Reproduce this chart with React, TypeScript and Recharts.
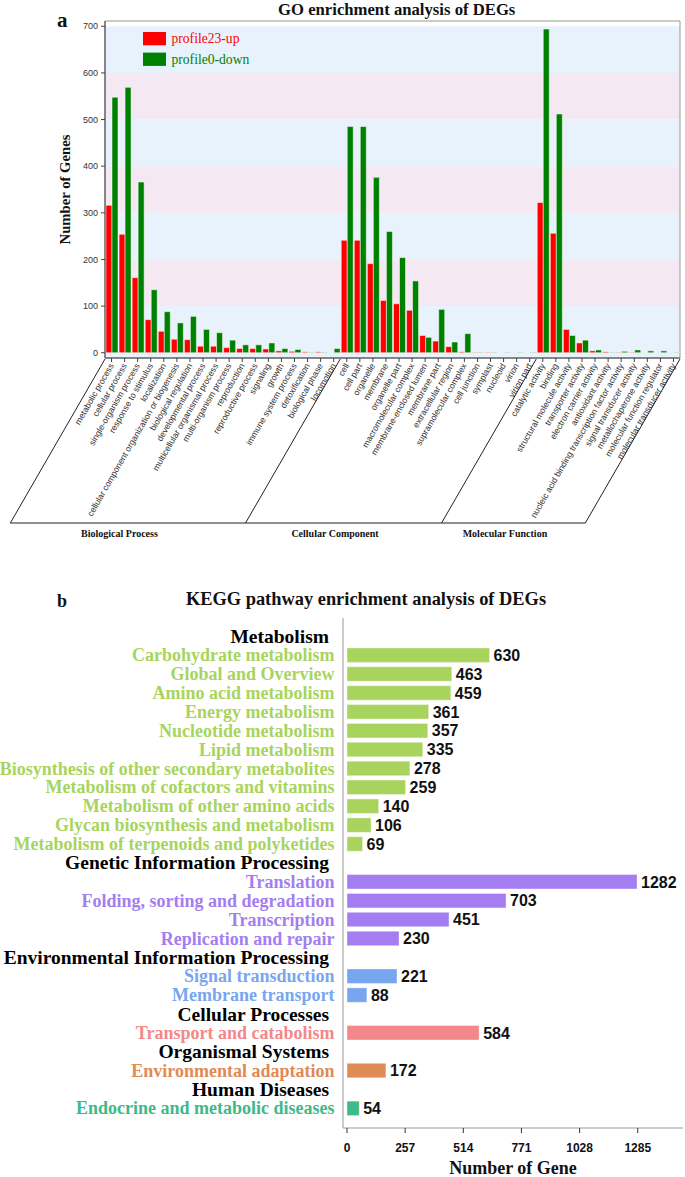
import React from 'react';
import { BarChart, Bar, XAxis, YAxis, ReferenceArea, Legend, Cell, LabelList } from 'recharts';

// ---------------- GO data ----------------
const bpTerms = ['metabolic process', 'cellular process', 'single-organism process', 'response to stimulus', 'localization', 'cellular component organization or biogenesis', 'biological regulation', 'developmental process', 'multicellular organismal process', 'multi-organism process', 'reproduction', 'reproductive process', 'signaling', 'growth', 'immune system process', 'detoxification', 'biological phase', 'locomotion'];
const bpUp = [316, 254, 161, 71, 46, 29, 28, 14, 14, 11, 9, 9, 8, 4, 3, 2, 2, 0];
const bpDown = [548, 569, 366, 135, 88, 64, 78, 50, 43, 27, 17, 17, 21, 9, 7, 1, 1, 9];

const ccTerms = ['cell', 'cell part', 'organelle', 'membrane', 'organelle part', 'macromolecular complex', 'membrane-enclosed lumen', 'membrane part', 'extracellular region', 'supramolecular complex', 'cell junction', 'symplast', 'nucleoid', 'virion', 'virion part'];
const ccUp = [241, 241, 191, 112, 105, 91, 37, 25, 13, 2, 1, 1, 0, 0, 0];
const ccDown = [485, 485, 376, 260, 204, 154, 33, 93, 23, 41, 1, 1, 1, 1, 1];

const mfTerms = ['catalytic activity', 'binding', 'structural molecule activity', 'transporter activity', 'electron carrier activity', 'antioxidant activity', 'nucleic acid binding transcription factor activity', 'signal transducer activity', 'metallochaperone activity', 'molecular function regulator', 'molecular transducer activity'];
const mfUp = [322, 256, 50, 21, 4, 2, 1, 1, 0, 0, 0];
const mfDown = [694, 512, 37, 27, 6, 1, 3, 6, 4, 4, 1];

const goGroupNames = ['Biological Process', 'Cellular Component', 'Molecular Function'];
const goSeriesNames = ['profile23-up', 'profile0-down'];
const goYTicks = [0, 100, 200, 300, 400, 500, 600, 700];
const goYDomain = [-11.3, 711.3];

// ---------------- KEGG data ----------------
const keggClasses = ['Metabolism', 'Genetic Information Processing', 'Environmental Information Processing', 'Cellular Processes', 'Organismal Systems', 'Human Diseases'];
const metabolismPathways = ['Carbohydrate metabolism', 'Global and Overview', 'Amino acid metabolism', 'Energy metabolism', 'Nucleotide metabolism', 'Lipid metabolism', 'Biosynthesis of other secondary metabolites', 'Metabolism of cofactors and vitamins', 'Metabolism of other amino acids', 'Glycan biosynthesis and metabolism', 'Metabolism of terpenoids and polyketides'];
const metabolismCounts = [630, 463, 459, 361, 357, 335, 278, 259, 140, 106, 69];
const geneticPathways = ['Translation', 'Folding, sorting and degradation', 'Transcription', 'Replication and repair'];
const geneticCounts = [1282, 703, 451, 230];
const environmentalPathways = ['Signal transduction', 'Membrane transport'];
const environmentalCounts = [221, 88];
const cellularPathways = ['Transport and catabolism'];
const cellularCounts = [584];
const organismalPathways = ['Environmental adaptation'];
const organismalCounts = [172];
const diseasePathways = ['Endocrine and metabolic diseases'];
const diseaseCounts = [54];
const keggXTicks = [0, 257, 514, 771, 1028, 1285];
const keggXDomain = [-17.7, 1485];

// ---------------- styles ----------------
const SERIF = '"Liberation Serif", "Times New Roman", serif';
const SANS = '"Liberation Sans", Arial, sans-serif';
const goColors = ['#ff0000', '#008000'];
const stripeColors = ['#e8f2fc', '#f4e8f2'];
const keggColors = ['#a8d45e', '#a47ef0', '#78a6ee', '#f4878a', '#e08a55', '#3dba88'];

// ---------------- build tables ----------------
const goGroups = [
  { terms: bpTerms, up: bpUp, down: bpDown },
  { terms: ccTerms, up: ccUp, down: ccDown },
  { terms: mfTerms, up: mfUp, down: mfDown },
];
const goRows = goGroups.flatMap((g, gi) => g.terms.map((t, i) => ({ term: t, up: g.up[i], down: g.down[i], group: gi })));

const keggGroups = [
  { p: metabolismPathways, c: metabolismCounts },
  { p: geneticPathways, c: geneticCounts },
  { p: environmentalPathways, c: environmentalCounts },
  { p: cellularPathways, c: cellularCounts },
  { p: organismalPathways, c: organismalCounts },
  { p: diseasePathways, c: diseaseCounts },
];
const keggRows: any[] = [];
keggClasses.forEach((cls, ci) => {
  keggRows.push({ name: cls, value: null, header: true, cls: ci });
  keggGroups[ci].p.forEach((p, i) => keggRows.push({ name: p, value: keggGroups[ci].c[i], header: false, cls: ci }));
});

// ---------------- layout ----------------
const W = 685;
const GO_H = 560;
const GO_TOP = 21;
const GO_YAXIS_W = 105;
const GO_RIGHT = 5;
const GO_XAXIS_H = 202;
const GO_PLOT_LEFT = GO_YAXIS_W;
const GO_PLOT_RIGHT = W - GO_RIGHT;
const GO_PLOT_BOTTOM = GO_H - GO_XAXIS_H;
const GO_BAND = (GO_PLOT_RIGHT - GO_PLOT_LEFT) / goRows.length;
const BR_TOP = GO_PLOT_BOTTOM + 1;
const BR_BOTTOM = 523;
const SLANT = (BR_BOTTOM - BR_TOP) / Math.tan(Math.PI / 3);

const groupStart = (gi: number) => goRows.findIndex((r) => r.group === gi);
const groupEnd = (gi: number) => goRows.length - 1 - [...goRows].reverse().findIndex((r) => r.group === gi);

function GoTick(props: any) {
  const { x, y, payload, index } = props;
  const row = goRows[index];
  const parts: any[] = [];
  parts.push(
    <text key="t" x={x} y={y} dy="0.35em" transform={`rotate(-60, ${x}, ${y})`} textAnchor="end" fontSize={8.6} fontFamily={SANS} fill="#333">
      {payload.value}
    </text>
  );
  const left = x - GO_BAND / 2;
  if (index === 0 || goRows[index - 1].group !== row.group) {
    parts.push(<line key="l" x1={left} y1={BR_TOP} x2={left - SLANT} y2={BR_BOTTOM} stroke="#222" strokeWidth={1} />);
  }
  if (index === goRows.length - 1) {
    const right = x + GO_BAND / 2;
    const first = x - index * GO_BAND - GO_BAND / 2;
    parts.push(<line key="r" x1={right} y1={BR_TOP} x2={right - SLANT} y2={BR_BOTTOM} stroke="#222" strokeWidth={1} />);
    parts.push(<line key="b" x1={first - SLANT} y1={BR_BOTTOM} x2={right - SLANT} y2={BR_BOTTOM} stroke="#222" strokeWidth={1} />);
    goGroupNames.forEach((name, gi) => {
      const s = first + groupStart(gi) * GO_BAND - SLANT;
      const e = first + (groupEnd(gi) + 1) * GO_BAND - SLANT;
      parts.push(
        <text key={'g' + gi} x={(s + e) / 2 - 8.5} y={BR_BOTTOM + 14} textAnchor="middle" fontSize={10} fontWeight="bold" fontFamily={SERIF} fill="#111">
          {name}
        </text>
      );
    });
  }
  return <g>{parts}</g>;
}

function GoLegend(props: any) {
  const payload = [...(props.payload || [])].sort((a: any, b: any) => goSeriesNames.indexOf(a.value) - goSeriesNames.indexOf(b.value));
  return (
    <svg width={160} height={36} style={{ display: 'block' }}>
      {payload.map((p: any, i: number) => (
        <g key={i}>
          <rect x={0} y={i * 20.6} width={23} height={13.3} fill={p.color} />
          <text x={28.5} y={i * 20.6 + 6.7} dy="0.33em" fontSize={13.6} fontFamily={SERIF} fill={p.color}>
            {p.value}
          </text>
        </g>
      ))}
    </svg>
  );
}

function KeggTick(props: any) {
  const { x, y, index } = props;
  const row = keggRows[index];
  if (!row) return null;
  if (row.header) {
    return (
      <text x={x - 14} y={y} dy="0.33em" textAnchor="end" fontSize={19.5} fontWeight="bold" fontFamily={SERIF} fill="#000">
        {row.name}
      </text>
    );
  }
  return (
    <text x={x - 8.5} y={y} dy="0.33em" textAnchor="end" fontSize={18} fontWeight="bold" fontFamily={SERIF} fill={keggColors[row.cls]}>
      {row.name}
    </text>
  );
}

function KeggValue(p: any) {
  if (p.value == null) return null;
  return (
    <text x={p.x + p.width + 4} y={p.y + p.height / 2} dy="0.36em" fontSize={16} fontWeight="bold" fontFamily={SANS} fill="#111">
      {p.value}
    </text>
  );
}

function GoChart() {
  const stripes = goYTicks.slice(0, -1).map((t, i) => ({ y1: i === 0 ? goYDomain[0] : t, y2: goYTicks[i + 1], fill: stripeColors[i % 2] }));
  return (
    <BarChart width={W} height={GO_H} data={goRows} margin={{ top: GO_TOP, right: GO_RIGHT, left: 0, bottom: 0 }} barCategoryGap={1} barGap={0}>
      {stripes.map((s, i) => (
        <ReferenceArea key={i} y1={s.y1} y2={s.y2} fill={s.fill} fillOpacity={1} stroke="none" ifOverflow="visible" />
      ))}
      <ReferenceArea y1={goYDomain[0]} y2={goYDomain[1]} fill="none" stroke="#999" strokeWidth={1} ifOverflow="visible" />
      <XAxis dataKey="term" type="category" interval={0} height={GO_XAXIS_H} tickSize={4} tickMargin={2} axisLine={{ stroke: '#444' }} tickLine={{ stroke: '#444' }} tick={<GoTick />} />
      <YAxis
        type="number"
        domain={goYDomain}
        ticks={goYTicks}
        allowDataOverflow
        width={GO_YAXIS_W}
        tickSize={4}
        tickMargin={3}
        axisLine={{ stroke: '#444' }}
        tickLine={{ stroke: '#444' }}
        tick={{ fontSize: 9, fill: '#333', fontFamily: SANS }}
        label={{
          content: (p: any) => {
            const vb = p.viewBox || { x: 0, y: GO_TOP, width: GO_YAXIS_W, height: 337 };
            const cx = vb.x + 65.5;
            const cy = vb.y + vb.height / 2;
            return (
              <text x={cx} y={cy} dy="0.33em" transform={`rotate(-90, ${cx}, ${cy})`} textAnchor="middle" fontSize={14.7} fontWeight="bold" fontFamily={SERIF} fill="#111">
                Number of Genes
              </text>
            );
          },
        }}
      />
      <Legend layout="vertical" align="center" verticalAlign="middle" wrapperStyle={{ position: 'absolute', left: 143, top: 31.7, width: 160, height: 36, margin: 0, padding: 0 }} content={<GoLegend />} />
      <Bar dataKey="up" name={goSeriesNames[0]} fill={goColors[0]} stroke="#ffffff" strokeWidth={0.5} isAnimationActive={false} />
      <Bar dataKey="down" name={goSeriesNames[1]} fill={goColors[1]} stroke="#ffffff" strokeWidth={0.5} isAnimationActive={false} />
    </BarChart>
  );
}

function KeggChart() {
  return (
    <BarChart width={W} height={597} data={keggRows} layout="vertical" margin={{ top: 38, right: 2, left: 0, bottom: 0 }} barSize={14.5}>
      <XAxis
        type="number"
        domain={keggXDomain}
        ticks={keggXTicks}
        allowDataOverflow
        height={49}
        tickSize={5}
        tickMargin={10}
        axisLine={{ stroke: '#999' }}
        tickLine={{ stroke: '#333' }}
        tick={{ fontSize: 12, fontWeight: 'bold', fill: '#111', fontFamily: SANS }}
        label={{
          content: (p: any) => {
            const vb = p.viewBox || { x: 343, y: 548, width: 340, height: 49 };
            return (
              <text x={vb.x + vb.width / 2} y={vb.y + 46} textAnchor="middle" fontSize={18} fontWeight="bold" fontFamily={SERIF} fill="#111">
                Number of Gene
              </text>
            );
          },
        }}
      />
      <XAxis xAxisId="top" orientation="top" type="number" domain={keggXDomain} allowDataOverflow height={0} tick={false} tickLine={false} axisLine={{ stroke: '#999' }} />
      <YAxis type="category" dataKey="name" interval={0} width={343} tickSize={0} tickMargin={0} tickLine={false} axisLine={{ stroke: '#999' }} padding={{ top: 9, bottom: 10 }} tick={<KeggTick />} />
      <YAxis yAxisId="right" orientation="right" type="category" dataKey="name" width={0} tick={false} tickLine={false} axisLine={{ stroke: '#999' }} />
      <Bar dataKey="value" isAnimationActive={false} stroke="#ffffff" strokeOpacity={0.5} strokeWidth={0.8}>
        {keggRows.map((r, i) => (
          <Cell key={i} fill={keggColors[r.cls]} />
        ))}
        <LabelList dataKey="value" content={<KeggValue />} />
      </Bar>
    </BarChart>
  );
}

export default function App() {
  return (
    <div style={{ position: 'absolute', left: 0, top: 0, width: W, height: 1177, background: '#fff', overflow: 'hidden' }}>
      <div style={{ position: 'absolute', left: 0, top: 0 }}>
        <GoChart />
      </div>
      <div style={{ position: 'absolute', left: 0, top: 580 }}>
        <KeggChart />
      </div>
      <svg width={W} height={1177} style={{ position: 'absolute', left: 0, top: 0, pointerEvents: 'none' }}>
        <text x={57} y={27} fontSize={21} fontWeight="bold" fontFamily={SERIF} fill="#111">a</text>
        <text x={396.7} y={14.5} textAnchor="middle" fontSize={16.7} fontWeight="bold" fontFamily={SERIF} fill="#111">GO enrichment analysis of DEGs</text>
        <text x={57} y={607} fontSize={18} fontWeight="bold" fontFamily={SERIF} fill="#111">b</text>
        <text x={366} y={605} textAnchor="middle" fontSize={18.4} fontWeight="bold" fontFamily={SERIF} fill="#111">KEGG pathway enrichment analysis of DEGs</text>
      </svg>
    </div>
  );
}
